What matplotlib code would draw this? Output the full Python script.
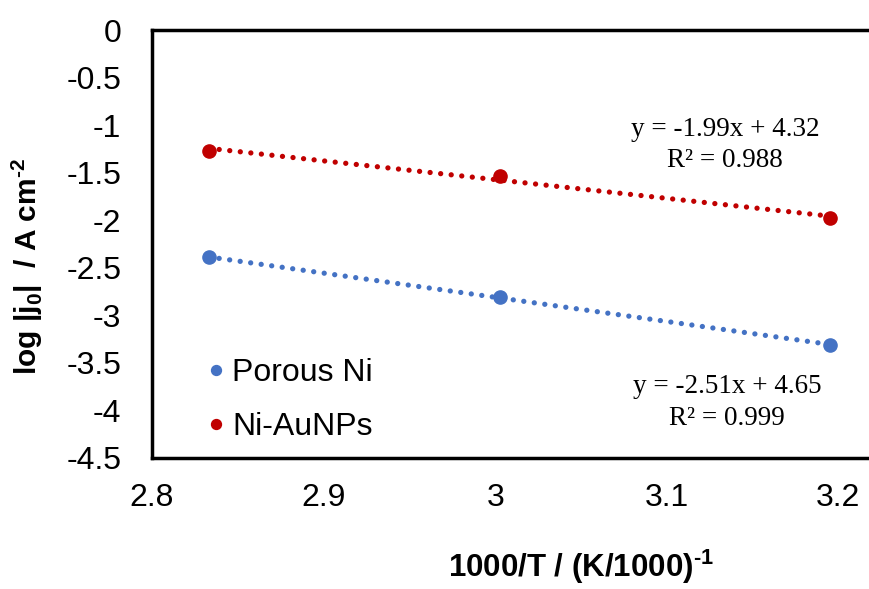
import numpy as np
import matplotlib.pyplot as plt

# data
inv_T = [2.833, 3.003, 3.195]
porous_ni = [-2.39, -2.81, -3.31]
ni_aunps = [-1.27, -1.53, -1.98]

eq_porous = ['y = -2.51x + 4.65', 'R² = 0.999']
eq_aunps = ['y = -1.99x + 4.32', 'R² = 0.988']

blue = '#4472C4'
red = '#C00000'

plt.rcParams['font.family'] = ['Liberation Sans', 'DejaVu Sans']
plt.rcParams['axes.unicode_minus'] = False
plt.rcParams['mathtext.fontset'] = 'custom'
plt.rcParams['mathtext.rm'] = 'Liberation Sans:bold'
plt.rcParams['mathtext.bf'] = 'Liberation Sans:bold'

fig = plt.figure(figsize=(8.7, 5.89), dpi=100)
ax = fig.add_axes([152/870, 131/589, 858/870, 428/589])

dots = (0, (0.01, 2.0))
for y, c, lab in [(porous_ni, blue, 'Porous Ni'), (ni_aunps, red, 'Ni-AuNPs')]:
    x = np.array(inv_T)
    k, b = np.polyfit(x, y, 1)
    ax.plot(x, k*x + b, color=c, lw=3.8, linestyle=dots, dash_capstyle='round', zorder=2)
    ax.plot(x, y, 'o', color=c, ms=9.5, label=lab, zorder=3)

ax.set_xlim(2.8, 3.3)
ax.set_ylim(-4.5, 0)
ax.set_xticks(np.arange(2.8, 3.25, 0.1))
ax.set_xticklabels(['2.8', '2.9', '3', '3.1', '3.2'])
ax.set_yticks(np.arange(-4.5, 0.01, 0.5))
ax.set_yticklabels(['-4.5', '-4', '-3.5', '-3', '-2.5', '-2', '-1.5', '-1', '-0.5', '0'])
ax.tick_params(length=0, labelsize=23)
ax.tick_params(axis='y', pad=22)
ax.tick_params(axis='x', pad=18)
for s in ax.spines.values():
    s.set_linewidth(2.5)
    s.set_color('black')

ax.text(3.134, -1.05, eq_aunps[0], family='Liberation Serif', fontsize=19.5, ha='center', va='center')
ax.text(3.134, -1.37, eq_aunps[1], family='Liberation Serif', fontsize=19.5, ha='center', va='center')
ax.text(3.135, -3.75, eq_porous[0], family='Liberation Serif', fontsize=19.5, ha='center', va='center')
ax.text(3.135, -4.08, eq_porous[1], family='Liberation Serif', fontsize=19.5, ha='center', va='center')

ax.legend(loc='lower left', bbox_to_anchor=(0.03, -0.03), frameon=False, fontsize=23,
          handlelength=0.6, handletextpad=0.2, labelspacing=0.75, markerscale=0.75)

fig.text(27/870, 1 - 266/589, r'log |j$_{0}$|  / A cm$^{\text{-2}}$', rotation=90,
         ha='center', va='center', fontsize=21.5, fontweight='bold')
fig.text(581/870, 1 - 567/589, r'1000/T / (K/1000)$^{\text{-1}}$', ha='center', va='center',
         fontsize=22.5, fontweight='bold')

fig.savefig('out.png', dpi=100)
